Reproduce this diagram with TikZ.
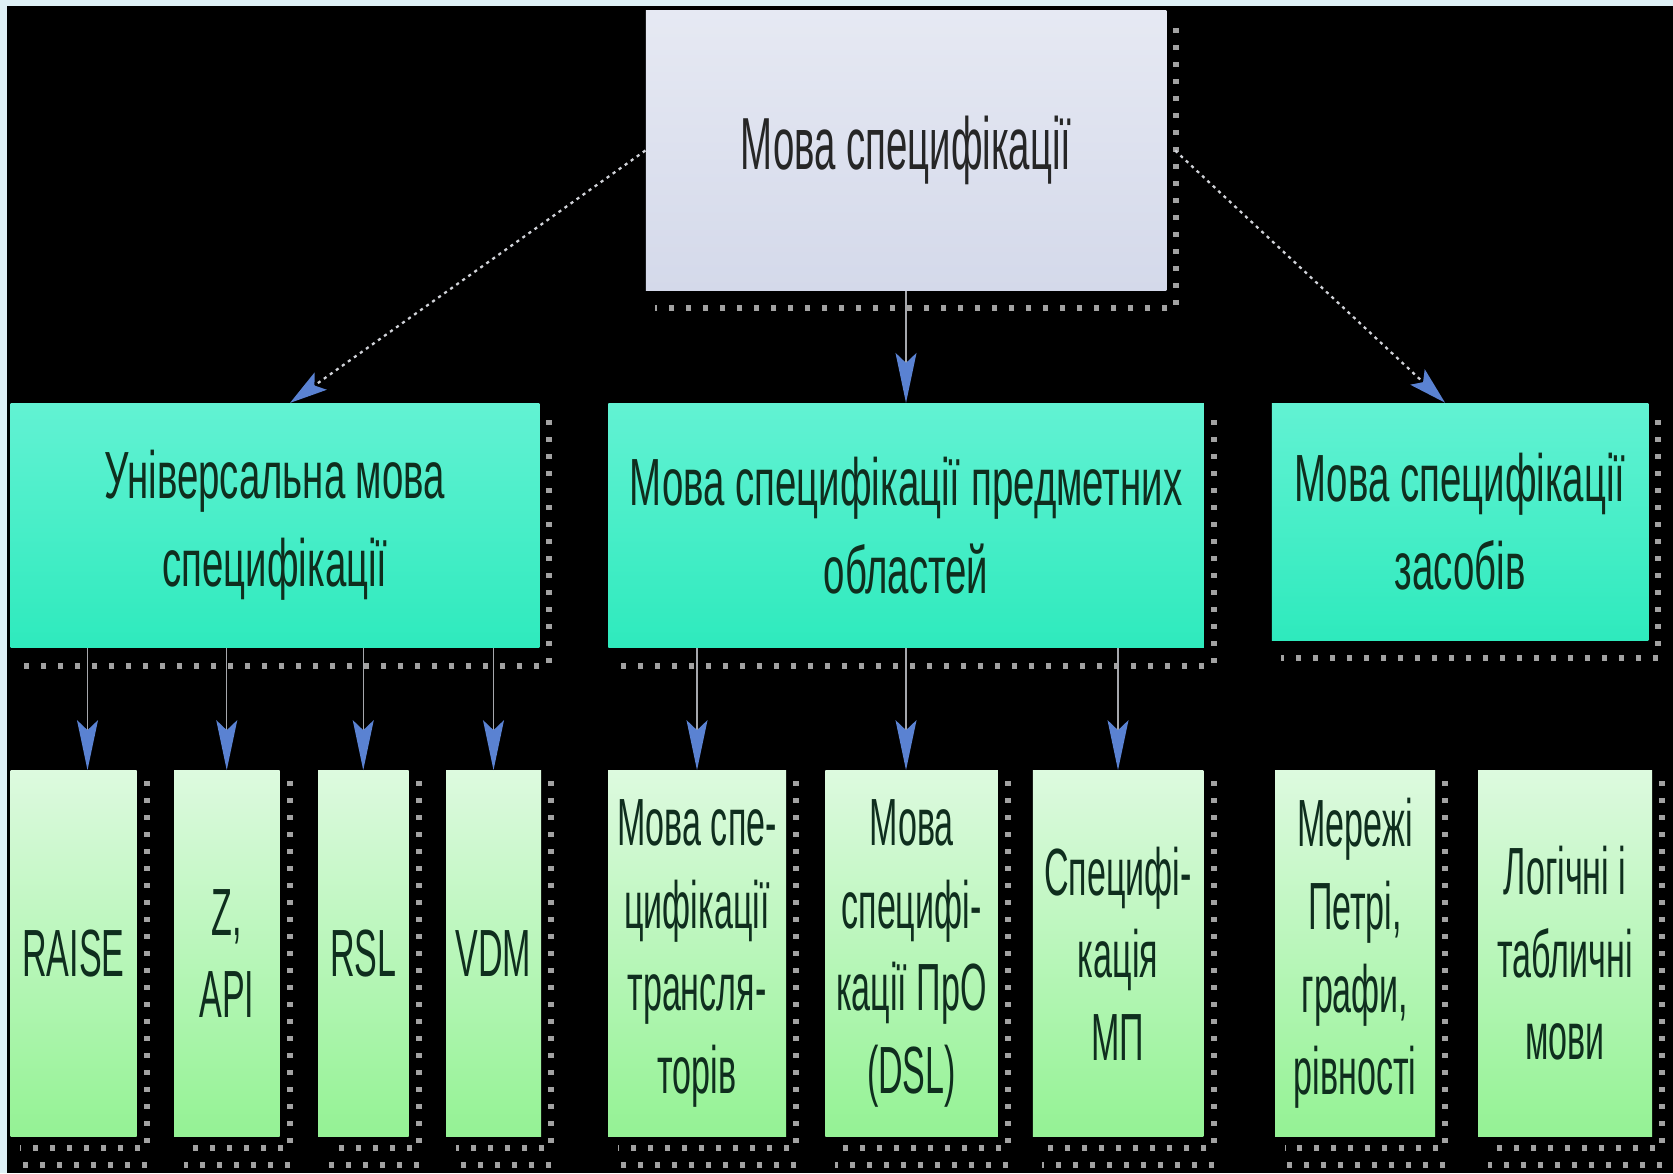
\documentclass[tikz,border=0pt]{standalone}
\usepackage{fontspec}
\setmainfont{Liberation Sans}
\newfontfamily\headfont{Liberation Sans}[FakeStretch=0.52]
\newfontfamily\areafont{Liberation Sans}[FakeStretch=0.575]
\newfontfamily\langfont{Liberation Sans}[FakeStretch=0.51]
\usepackage{tikz}
\usetikzlibrary{arrows.meta, positioning, calc}

\definecolor{framecol}{HTML}{DFF1F6}
\definecolor{topup}{HTML}{E6E9F3}
\definecolor{toplow}{HTML}{D4D9EA}
\definecolor{areaup}{HTML}{62F2D3}
\definecolor{arealow}{HTML}{2EEABD}
\definecolor{langup}{HTML}{DDFADF}
\definecolor{langmid}{HTML}{A0F5A2}
\definecolor{langlow}{HTML}{94F294}
\definecolor{txtdark}{HTML}{0F2E1E}
\definecolor{dotgray}{HTML}{A2A2A2}
\definecolor{linegray}{HTML}{D0D2D8}
\definecolor{arrowblue}{HTML}{5A82D2}

\begin{document}
\begin{tikzpicture}[
            box/.style={draw=none, inner sep=0pt, align=center, text=txtdark},
            topbox/.style={box, top color=topup, bottom color=toplow, text=black!85,
                minimum width=10.41cm, minimum height=5.59cm, font=\headfont\fontsize{42}{50}\selectfont},
            areabox/.style={box, top color=areaup, bottom color=arealow,
                minimum height=4.89cm, font=\areafont\fontsize{38}{50}\selectfont},
            langbox/.style={box, top color=langup, middle color=langmid, bottom color=langlow,
                minimum height=7.32cm, font=\langfont\fontsize{38}{47}\selectfont},
            shade line/.style={draw=dotgray, line width=0.12cm, dash pattern=on 0.1cm off 0.24cm},
            link/.style={draw=linegray, line width=1.3pt, dash pattern=on 1.8pt off 2.4pt,
                -{Stealth[length=0.75cm, width=0.42cm, inset=0.15cm, color=arrowblue]}},
            drop/.style={draw=linegray!80!black, line width=0.8pt,
                -{Stealth[length=1cm, width=0.42cm, inset=0.2cm, color=arrowblue]}}]

            % Background and light frame
            \useasboundingbox (0,0) rectangle (33.46,-23.46);
            \fill[black] (0,0) rectangle (33.46,-23.46);
            \fill[framecol] (0,0) rectangle (33.46,-0.12);
            \fill[framecol] (0,0) rectangle (0.14,-23.46);

            % Root
            \node[topbox] (spec) at (18.12,-3.01) {Мова специфікації};

            % Second level
            \node[areabox, minimum width=10.57cm] (univ) at (5.50,-10.51) {Універсальна мова\\специфікації};
            \node[areabox, minimum width=11.91cm] (domain) at (18.12,-10.51) {Мова специфікації предметних\\областей};
            \node[areabox, minimum width=7.53cm, minimum height=4.74cm] (tools) at (29.20,-10.43) {Мова специфікації\\засобів};

            % Third level
            \node[langbox, minimum width=2.52cm] (raise) at (1.47,-19.07) {RAISE};
            \node[langbox, minimum width=2.11cm] (zapi) at (4.535,-19.07) {Z,\\API};
            \node[langbox, minimum width=1.81cm] (rsl) at (7.265,-19.07) {RSL};
            \node[langbox, minimum width=1.90cm] (vdm) at (9.87,-19.07) {VDM};
            \node[langbox, minimum width=3.56cm] (transl) at (13.94,-19.07) {Мова спе-\\цифікації\\трансля-\\торів};
            \node[langbox, minimum width=3.45cm] (dsl) at (18.23,-19.07) {Мова\\специфі-\\кації ПрО\\(DSL)};
            \node[langbox, minimum width=3.41cm] (mp) at (22.36,-19.07) {Специфі-\\кація\\МП};
            \node[langbox, minimum width=3.20cm] (petri) at (27.10,-19.07) {Мережі\\Петрі,\\графи,\\рівності};
            \node[langbox, minimum width=3.48cm] (logic) at (31.30,-19.07) {Логічні і\\табличні\\мови};

            % Dotted shadows
            \foreach \b in {spec, univ, domain, tools}
                \draw[shade line] ([shift={(0.19cm,-0.35cm)}]\b.north east) |- ([shift={(0.19cm,-0.35cm)}]\b.south west);
            \foreach \b in {raise, zapi, rsl, vdm, transl, dsl, mp, petri, logic} {
                \draw[shade line] ([shift={(0.2cm,-0.22cm)}]\b.north east) |- ([shift={(0.2cm,-0.22cm)}]\b.south west);
                \draw[shade line] ([shift={(0.2cm,-0.56cm)}]\b.south east) -- ([shift={(0.2cm,-0.56cm)}]\b.south west);
            }

            % Connectors
            \draw[link] (spec.west) -- ([xshift=0.3cm]univ.north);
            \draw[link] ([xshift=0.17cm]spec.east) -- ([xshift=-0.3cm]tools.north);
            \draw[drop] (spec.south) -- (domain.north);

            \draw[drop] ([xshift=0.28cm]raise.north |- univ.south) -- ([xshift=0.28cm]raise.north);
            \foreach \c in {zapi, rsl, vdm}
                \draw[drop] (univ.south -| \c.north) -- (\c.north);
            \draw[drop] (domain.south -| transl.north) -- (transl.north);
            \draw[drop] (domain.south) -- (domain.south |- dsl.north);
            \draw[drop] (domain.south -| mp.north) -- (mp.north);
        \end{tikzpicture}
\end{document}
